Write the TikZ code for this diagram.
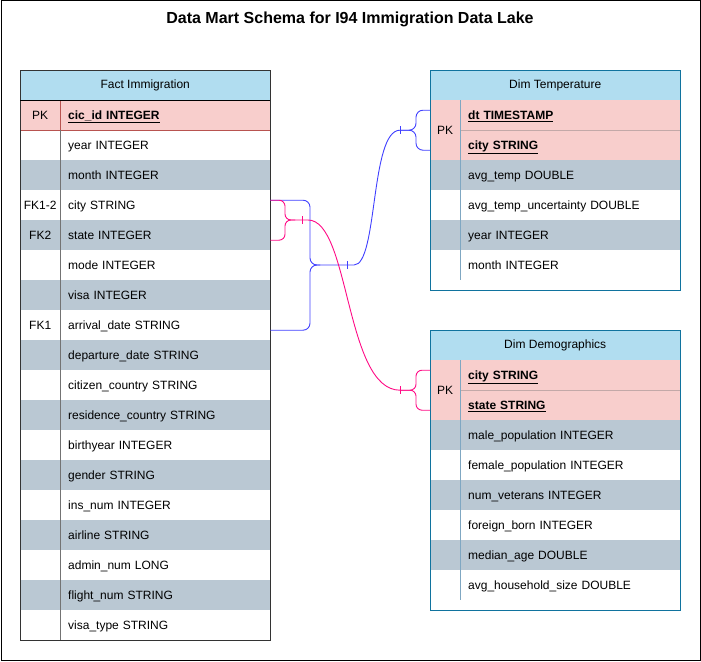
\documentclass[tikz,border=0pt]{standalone}
\usepackage{fontspec}
\setmainfont{Liberation Sans}
\usepackage{tikz}

\definecolor{headfill}{HTML}{B1DDF0}
\definecolor{pkfill}{HTML}{F8CECC}
\definecolor{rowgray}{HTML}{BAC8D3}
\definecolor{pkline}{HTML}{B85450}
\definecolor{pksep}{HTML}{C3A9A8}
\definecolor{dimline}{HTML}{10739E}
\definecolor{dimdiv}{HTML}{7FA7C2}
\definecolor{bluelink}{HTML}{4040FF}
\definecolor{pinklink}{HTML}{FF0A85}

\begin{document}
\begin{tikzpicture}[x=1pt, y=-1pt, every node/.style={font=\fontsize{12}{14}\selectfont}]

\tikzstyle{head}=[rectangle, anchor=north west, minimum width=250pt, minimum height=30pt, inner sep=0pt, fill=headfill]
\tikzstyle{field}=[rectangle, anchor=north west, minimum width=210pt, minimum height=30pt, text width=194pt, inner xsep=8pt, inner ysep=0pt, text height=9pt, text depth=1pt, align=left]
\tikzstyle{dimfield}=[field, minimum width=220pt, text width=204pt]
\tikzstyle{key}=[rectangle, anchor=north west, minimum width=40pt, minimum height=30pt, inner sep=0pt, text height=9pt, text depth=1pt]
\tikzstyle{dimkey}=[key, minimum width=30pt]
\tikzstyle{graycell}=[fill=rowgray]
\tikzstyle{pkcell}=[fill=pkfill]
\tikzstyle{bluerel}=[draw=bluelink, line width=0.9pt, rounded corners=7pt]
\tikzstyle{pinkrel}=[draw=pinklink, line width=0.9pt, rounded corners=6pt]

\useasboundingbox (0,0) rectangle (701,661);
\draw[line width=1pt] (1,1) rectangle (700,660);

\node (title) at (350,19) {\fontsize{16}{19}\selectfont\textbf{Data Mart Schema for I94 Immigration Data Lake}};

% fact table
\node (fhead) [head] at (20,70) {Fact Immigration};
\node (kpk) [key, pkcell, draw=pkline] at (20,100) {PK};
\node (fpk) [field, pkcell, draw=pkline] at (60,100) {\underline{\textbf{cic\_id INTEGER}}};
\node (fyear) [field] at (60,130) {year INTEGER};
\node (kmonth) [key, graycell] at (20,160) {};
\node (fmonth) [field, graycell] at (60,160) {month INTEGER};
\node (kcity) [key] at (20,190) {FK1-2};
\node (fcity) [field] at (60,190) {city STRING};
\node (kstate) [key, graycell] at (20,220) {FK2};
\node (fstate) [field, graycell] at (60,220) {state INTEGER};
\node (fmode) [field] at (60,250) {mode INTEGER};
\node (kvisa) [key, graycell] at (20,280) {};
\node (fvisa) [field, graycell] at (60,280) {visa INTEGER};
\node (karrival) [key] at (20,310) {FK1};
\node (farrival) [field] at (60,310) {arrival\_date STRING};
\node (kdeparture) [key, graycell] at (20,340) {};
\node (fdeparture) [field, graycell] at (60,340) {departure\_date STRING};
\node (fcitizen) [field] at (60,370) {citizen\_country STRING};
\node (kresidence) [key, graycell] at (20,400) {};
\node (fresidence) [field, graycell] at (60,400) {residence\_country STRING};
\node (fbirth) [field] at (60,430) {birthyear INTEGER};
\node (kgender) [key, graycell] at (20,460) {};
\node (fgender) [field, graycell] at (60,460) {gender STRING};
\node (fins) [field] at (60,490) {ins\_num INTEGER};
\node (kairline) [key, graycell] at (20,520) {};
\node (fairline) [field, graycell] at (60,520) {airline STRING};
\node (fadmin) [field] at (60,550) {admin\_num LONG};
\node (kflight) [key, graycell] at (20,580) {};
\node (fflight) [field, graycell] at (60,580) {flight\_num STRING};
\node (fvisatype) [field] at (60,610) {visa\_type STRING};

\draw[black!80] (fhead.north west) rectangle (fvisatype.south east);
\draw[black] (fhead.south west) -- (fhead.south east);
\draw[black!55] (fpk.south west) -- (fvisatype.south west);

% dim temperature
\node (dthead) [head] at (430,70) {Dim Temperature};
\node (dtkey) [dimkey, pkcell, minimum height=60pt] at (430,100) {PK};
\node (dtdt) [dimfield, pkcell] at (460,100) {\underline{\textbf{dt TIMESTAMP}}};
\node (dtcity) [dimfield, pkcell] at (460,130) {\underline{\textbf{city STRING}}};
\node (ktavg) [dimkey, graycell] at (430,160) {};
\node (dtavg) [dimfield, graycell] at (460,160) {avg\_temp DOUBLE};
\node (dtunc) [dimfield] at (460,190) {avg\_temp\_uncertainty DOUBLE};
\node (ktyear) [dimkey, graycell] at (430,220) {};
\node (dtyear) [dimfield, graycell] at (460,220) {year INTEGER};
\node (dtmonth) [dimfield] at (460,250) {month INTEGER};

\draw[pksep] (dtdt.south west) -- (dtdt.south east);
\draw[dimdiv] (dtdt.north west) -- (dtmonth.south west);
\draw[dimline] (dthead.north west) rectangle ([yshift=-10pt]dtmonth.south east);

% dim demographics
\node (ddhead) [head] at (430,330) {Dim Demographics};
\node (ddkey) [dimkey, pkcell, minimum height=60pt] at (430,360) {PK};
\node (ddcity) [dimfield, pkcell] at (460,360) {\underline{\textbf{city STRING}}};
\node (ddstate) [dimfield, pkcell] at (460,390) {\underline{\textbf{state STRING}}};
\node (kdmale) [dimkey, graycell] at (430,420) {};
\node (ddmale) [dimfield, graycell] at (460,420) {male\_population INTEGER};
\node (ddfemale) [dimfield] at (460,450) {female\_population INTEGER};
\node (kdvet) [dimkey, graycell] at (430,480) {};
\node (ddvet) [dimfield, graycell] at (460,480) {num\_veterans INTEGER};
\node (ddforeign) [dimfield] at (460,510) {foreign\_born INTEGER};
\node (kdmedian) [dimkey, graycell] at (430,540) {};
\node (ddmedian) [dimfield, graycell] at (460,540) {median\_age DOUBLE};
\node (ddhouse) [dimfield] at (460,570) {avg\_household\_size DOUBLE};

\draw[pksep] (ddcity.south west) -- (ddcity.south east);
\draw[dimdiv] (ddcity.north west) -- (ddhouse.south west);
\draw[dimline] (ddhead.north west) rectangle ([yshift=-10pt]ddhouse.south east);

% relation to dim temperature
\coordinate (bj) at (320,265);
\coordinate (bt) at (347,265);
\coordinate (be) at ([xshift=-30pt]dtkey.west);
\draw[bluerel] ([yshift=5pt]fcity.east) -| ([xshift=-10pt]bj) -- (bj);
\draw[bluerel] ([yshift=-5pt]farrival.east) -| ([xshift=-10pt]bj) -- (bj);
\draw[bluerel] (bj) -- (bt) .. controls +(31,0) and +(-30,0) .. (be);
\draw[bluerel] (be) -- ++(16,0) |- ([yshift=20pt]dtkey.west);
\draw[bluerel] (be) -- ++(16,0) |- ([yshift=-20pt]dtkey.west);
\draw[bluerel] ([yshift=4pt]bt) -- ([yshift=-4pt]bt);
\draw[bluerel] ([yshift=4pt]be) -- ([yshift=-4pt]be);

% relation to dim demographics
\coordinate (pj) at (295,220);
\coordinate (pt) at (302,220);
\coordinate (pe) at ([xshift=-30pt]ddkey.west);
\draw[pinkrel] ([yshift=5pt]fcity.east) -| ([xshift=-10pt]pj) -- (pj);
\draw[pinkrel] ([yshift=-5pt]fstate.east) -| ([xshift=-10pt]pj) -- (pj);
\draw[pinkrel] (pj) -- (pt) .. controls +(48,0) and +(-55,0) .. (pe);
\draw[pinkrel] (pe) -- ++(16,0) |- ([yshift=20pt]ddkey.west);
\draw[pinkrel] (pe) -- ++(16,0) |- ([yshift=-20pt]ddkey.west);
\draw[pinkrel] ([yshift=4pt]pt) -- ([yshift=-4pt]pt);
\draw[pinkrel] ([yshift=4pt]pe) -- ([yshift=-4pt]pe);

\end{tikzpicture}
\end{document}
